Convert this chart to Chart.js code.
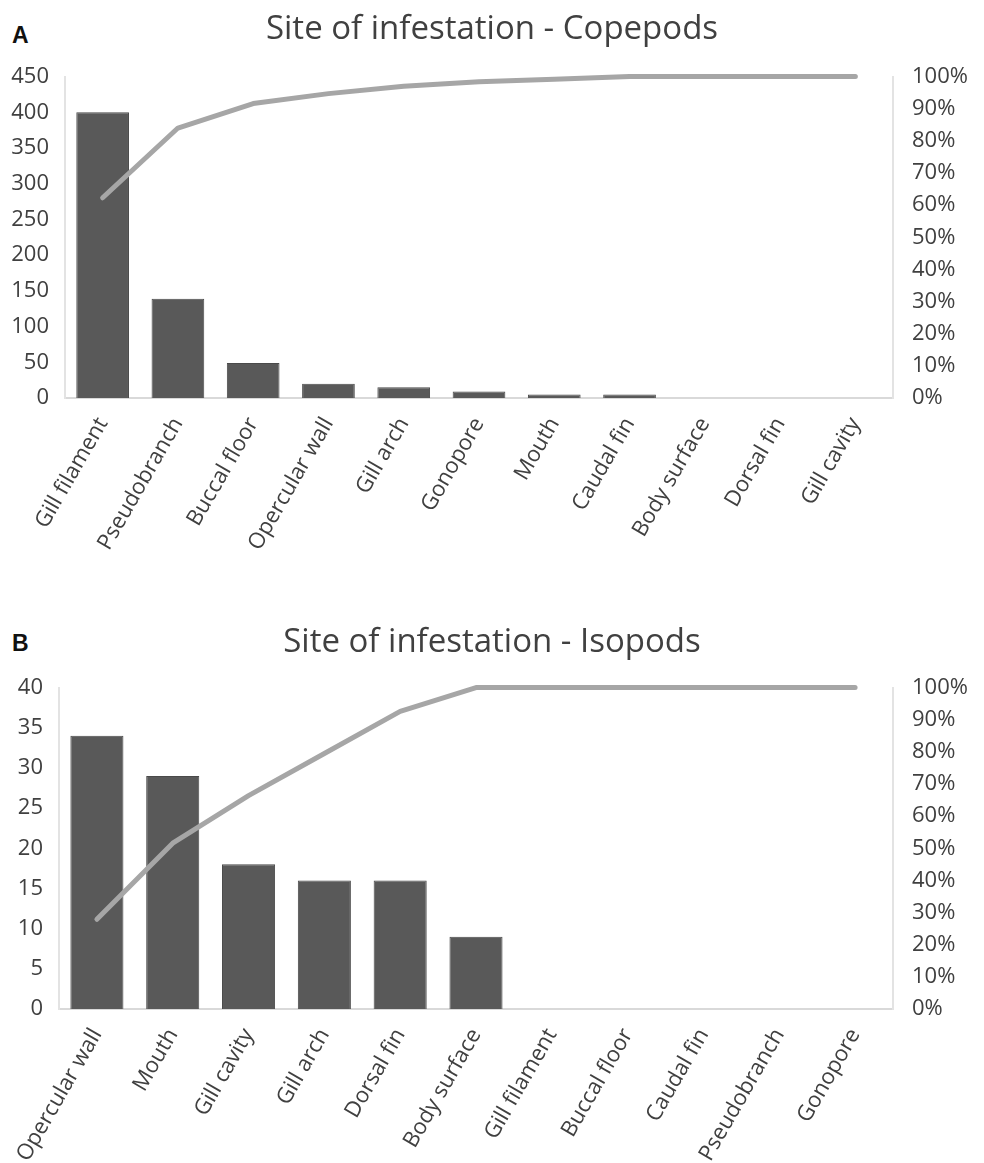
<!DOCTYPE html>
<html>
<head>
<meta charset="utf-8">
<script src="https://cdn.jsdelivr.net/npm/chart.js@4/dist/chart.umd.min.js"></script>
<style>
  body { margin: 0; background: #fff; width: 984px; height: 1163px; position: relative; overflow: hidden; }
  .panel { position: absolute; left: 0; width: 984px; }
  .tag { position: absolute; left: 12px; font: bold 23px "Liberation Sans", Arial, sans-serif; color: #111; }
</style>
</head>
<body>
<div class="tag" style="top:22px">A</div>
<div class="tag" style="top:630px">B</div>
<div class="panel" style="top:0; height:580px"><canvas id="copepodChart"></canvas></div>
<div class="panel" style="top:580px; height:583px"><canvas id="isopodChart"></canvas></div>
<script>
// Copepods
const copepodSites = ['Gill filament', 'Pseudobranch', 'Buccal floor', 'Opercular wall', 'Gill arch', 'Gonopore', 'Mouth', 'Caudal fin', 'Body surface', 'Dorsal fin', 'Gill cavity'];
const copepodCounts = [400, 139, 49, 20, 15, 9, 5, 5, 0, 0, 0];
const copepodCumPct = [62.3, 84.0, 91.6, 94.7, 97.0, 98.4, 99.2, 100, 100, 100, 100];
const copepodTicks = [0, 50, 100, 150, 200, 250, 300, 350, 400, 450];

// Isopods
const isopodSites = ['Opercular wall', 'Mouth', 'Gill cavity', 'Gill arch', 'Dorsal fin', 'Body surface', 'Gill filament', 'Buccal floor', 'Caudal fin', 'Pseudobranch', 'Gonopore'];
const isopodCounts = [34, 29, 18, 16, 16, 9, 0, 0, 0, 0, 0];
const isopodCumPct = [27.9, 51.6, 66.4, 79.5, 92.6, 100, 100, 100, 100, 100, 100];
const isopodTicks = [0, 5, 10, 15, 20, 25, 30, 35, 40];

const pctTicks = [0, 10, 20, 30, 40, 50, 60, 70, 80, 90, 100];

const textColor = '#404040';
const fontFamily = '"Open Sans", "Noto Sans", sans-serif';

function paretoChart(id, opts) {
    const canvas = document.getElementById(id);
    canvas.width = 984;
    canvas.height = opts.height;
    canvas.style.width = '984px';
    canvas.style.height = opts.height + 'px';

    return new Chart(canvas.getContext('2d'), {
        type: 'bar',
        data: {
            labels: opts.labels,
            datasets: [{
                type: 'line',
                data: opts.cum,
                yAxisID: 'yPct',
                borderColor: '#a6a6a6',
                borderWidth: 5,
                borderCapStyle: 'round',
                borderJoinStyle: 'round',
                pointRadius: 0,
                tension: 0,
                clip: false,
                order: 0
            }, {
                data: opts.counts,
                yAxisID: 'y',
                backgroundColor: '#595959',
                borderColor: '#4a4a4a',
                borderWidth: 1,
                barPercentage: 0.7,
                categoryPercentage: 1,
                order: 1
            }]
        },
        options: {
            responsive: false,
            animation: false,
            layout: { padding: 0 },
            plugins: {
                legend: { display: false },
                tooltip: { enabled: false },
                title: {
                    display: true,
                    text: opts.title,
                    color: textColor,
                    font: { family: fontFamily, size: 33, weight: 'normal', lineHeight: 1.2 },
                    padding: { top: opts.titleTop, bottom: opts.titleBottom }
                }
            },
            scales: {
                x: {
                    grid: { display: false },
                    border: { display: true, color: '#d9d9d9', width: 2 },
                    ticks: {
                        color: textColor,
                        font: { family: fontFamily, size: 22 },
                        minRotation: 60,
                        maxRotation: 60,
                        autoSkip: false,
                        padding: 7
                    },
                    afterFit: (s) => { s.height = opts.xHeight; }
                },
                y: {
                    position: 'left',
                    min: 0,
                    max: opts.yMax,
                    grid: { display: false, drawTicks: false },
                    border: { display: true, color: '#e3e3e3', width: 2 },
                    afterBuildTicks: (s) => { s.ticks = opts.yTicks.map(v => ({ value: v })); },
                    ticks: {
                        color: textColor,
                        font: { family: fontFamily, size: 22 },
                        padding: 16
                    },
                    afterFit: (s) => { s.width = opts.leftWidth; }
                },
                yPct: {
                    position: 'right',
                    min: 0,
                    max: 100,
                    grid: { display: false, drawTicks: false },
                    border: { display: true, color: '#e3e3e3', width: 2 },
                    afterBuildTicks: (s) => { s.ticks = pctTicks.map(v => ({ value: v })); },
                    ticks: {
                        color: textColor,
                        font: { family: fontFamily, size: 22 },
                        padding: 19,
                        callback: (v) => v + '%'
                    },
                    afterFit: (s) => { s.width = 91; }
                }
            }
        }
    });
}

paretoChart('copepodChart', {
    height: 580,
    labels: copepodSites,
    counts: copepodCounts,
    cum: copepodCumPct,
    yTicks: copepodTicks,
    yMax: 450,
    title: 'Site of infestation - Copepods',
    titleTop: 10,
    titleBottom: 27,
    xHeight: 182,
    leftWidth: 65
});

paretoChart('isopodChart', {
    height: 583,
    labels: isopodSites,
    counts: isopodCounts,
    cum: isopodCumPct,
    yTicks: isopodTicks,
    yMax: 40,
    title: 'Site of infestation - Isopods',
    titleTop: 43,
    titleBottom: 25,
    xHeight: 154,
    leftWidth: 59
});
</script>
</body>
</html>
